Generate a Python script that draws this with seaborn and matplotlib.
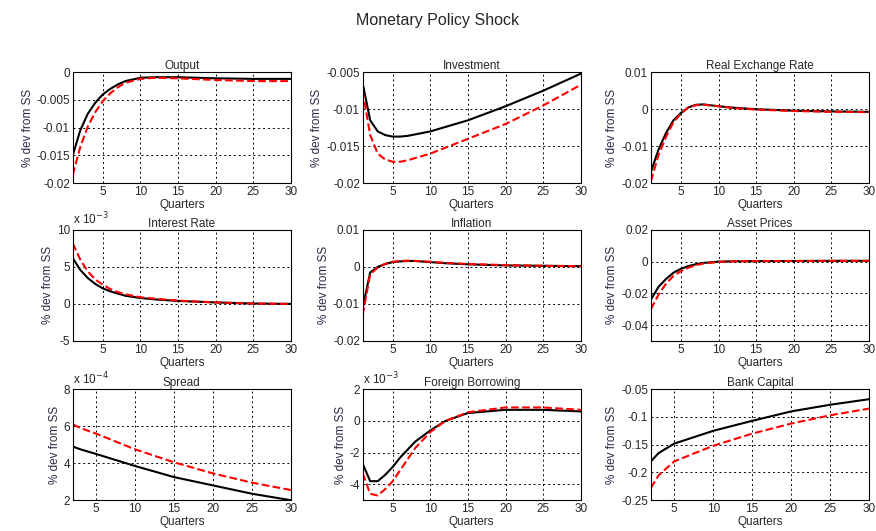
import matplotlib
matplotlib.use("Agg")
import matplotlib.pyplot as plt
import seaborn as sns

sns.set_style("white")
plt.rcParams["font.family"] = ["Liberation Sans", "DejaVu Sans"]
plt.rcParams["font.size"] = 8.5

QUARTERS = [1, 2, 3, 4, 5, 6, 7, 8, 10, 12, 15, 20, 25, 30]
QUARTERS_LATE = [2, 3, 5, 10, 15, 20, 25, 30]

OUTPUT_BASE = [-0.015, -0.0105, -0.0075, -0.0055, -0.004, -0.003, -0.0022, -0.0016, -0.001, -0.0009, -0.0009, -0.0011, -0.0012, -0.0012]
OUTPUT_ALT = [-0.0185, -0.0135, -0.0098, -0.0072, -0.0052, -0.0038, -0.0027, -0.0019, -0.0012, -0.001, -0.0011, -0.0014, -0.0016, -0.0016]
INVEST_BASE = [-0.0065, -0.0115, -0.013, -0.0135, -0.0137, -0.0137, -0.0136, -0.0134, -0.013, -0.0124, -0.0115, -0.0096, -0.0075, -0.0052]
INVEST_ALT = [-0.0075, -0.0135, -0.016, -0.0168, -0.0171, -0.0171, -0.0169, -0.0166, -0.016, -0.0152, -0.014, -0.012, -0.0095, -0.0067]
RER_BASE = [-0.017, -0.011, -0.0065, -0.003, -0.001, 0.0005, 0.0012, 0.0013, 0.0008, 0.0004, 0.0, -0.0004, -0.0006, -0.0007]
RER_ALT = [-0.0195, -0.0125, -0.0075, -0.0035, -0.0012, 0.0005, 0.0011, 0.0012, 0.0008, 0.0003, -0.0001, -0.0005, -0.0007, -0.0008]
RATE_BASE = [6.2, 4.6, 3.5, 2.7, 2.1, 1.7, 1.4, 1.1, 0.8, 0.6, 0.4, 0.2, 0.05, 0.0]
RATE_ALT = [8.2, 6.0, 4.4, 3.3, 2.6, 2.0, 1.6, 1.3, 0.9, 0.7, 0.45, 0.2, 0.05, 0.0]
INFL_BASE = [-0.011, -0.0015, 0.0, 0.0008, 0.0013, 0.0015, 0.0016, 0.0016, 0.0013, 0.001, 0.0007, 0.0004, 0.0003, 0.0002]
INFL_ALT = [-0.013, -0.002, -0.0002, 0.0008, 0.0014, 0.0016, 0.0017, 0.0016, 0.0014, 0.0011, 0.0008, 0.0005, 0.0003, 0.0002]
ASSET_BASE = [-0.024, -0.016, -0.011, -0.007, -0.0045, -0.0028, -0.0016, -0.0008, 0.0, 0.0002, 0.0003, 0.0004, 0.0005, 0.0005]
ASSET_ALT = [-0.03, -0.021, -0.014, -0.009, -0.006, -0.0038, -0.0022, -0.0012, -0.0002, 0.0002, 0.0003, 0.0004, 0.0005, 0.0005]
SPREAD_BASE = [4.9, 4.75, 4.5, 3.85, 3.25, 2.8, 2.35, 2.0]
SPREAD_ALT = [6.1, 5.9, 5.6, 4.75, 4.05, 3.45, 2.95, 2.55]
BORROW_BASE = [-2.7, -3.8, -3.8, -3.4, -2.9, -2.3, -1.8, -1.3, -0.6, 0.0, 0.5, 0.7, 0.7, 0.6]
BORROW_ALT = [-3.3, -4.6, -4.7, -4.3, -3.8, -3.1, -2.4, -1.7, -0.7, 0.0, 0.55, 0.85, 0.85, 0.7]
BANK_BASE = [-0.18, -0.165, -0.148, -0.125, -0.107, -0.09, -0.078, -0.068]
BANK_ALT = [-0.228, -0.205, -0.18, -0.152, -0.13, -0.112, -0.097, -0.085]

PANELS = [
    ("Output", QUARTERS, OUTPUT_BASE, OUTPUT_ALT, (-0.02, 0), [-0.02, -0.015, -0.01, -0.005, 0], None),
    ("Investment", QUARTERS, INVEST_BASE, INVEST_ALT, (-0.02, -0.005), [-0.02, -0.015, -0.01, -0.005], None),
    ("Real Exchange Rate", QUARTERS, RER_BASE, RER_ALT, (-0.02, 0.01), [-0.02, -0.01, 0, 0.01], None),
    ("Interest Rate", QUARTERS, RATE_BASE, RATE_ALT, (-5, 10), [-5, 0, 5, 10], "x 10$^{-3}$"),
    ("Inflation", QUARTERS, INFL_BASE, INFL_ALT, (-0.02, 0.01), [-0.02, -0.01, 0, 0.01], None),
    ("Asset Prices", QUARTERS, ASSET_BASE, ASSET_ALT, (-0.05, 0.02), [-0.04, -0.02, 0, 0.02], None),
    ("Spread", QUARTERS_LATE, SPREAD_BASE, SPREAD_ALT, (2, 8), [2, 4, 6, 8], "x 10$^{-4}$"),
    ("Foreign Borrowing", QUARTERS, BORROW_BASE, BORROW_ALT, (-5, 2), [-4, -2, 0, 2], "x 10$^{-3}$"),
    ("Bank Capital", QUARTERS_LATE, BANK_BASE, BANK_ALT, (-0.25, -0.05), [-0.25, -0.2, -0.15, -0.1, -0.05], None),
]

LEFTS = [0.083, 0.414, 0.743]
BOTTOMS = [0.655, 0.358, 0.058]
WIDTH, HEIGHT = 0.249, 0.209

fig = plt.figure(figsize=(8.76, 5.31), dpi=100)
fig.suptitle("Monetary Policy Shock", y=0.975, fontsize=11.5)

for i, (title, q, base, alt, ylim, yticks, scale) in enumerate(PANELS):
    ax = fig.add_axes([LEFTS[i % 3], BOTTOMS[i // 3], WIDTH, HEIGHT])
    sns.lineplot(x=q, y=base, ax=ax, color="black", linewidth=1.5)
    sns.lineplot(x=q, y=alt, ax=ax, color="red", linewidth=1.5, linestyle="--")
    ax.set_xlim(q[0], 30)
    ax.set_ylim(*ylim)
    ax.set_xticks([5, 10, 15, 20, 25, 30])
    ax.set_yticks(yticks)
    ax.set_yticklabels([f"{v:g}" for v in yticks])
    ax.grid(True, color="black", linestyle=(0, (2, 3)), linewidth=0.7)
    ax.tick_params(direction="in", length=3, pad=2, labelsize=8.5)
    for sp in ax.spines.values():
        sp.set_color("black")
        sp.set_linewidth(0.8)
    ax.set_title(title, fontsize=8.5, pad=2)
    ax.set_xlabel("Quarters", fontsize=8.5, labelpad=1)
    ax.set_ylabel("% dev from SS", fontsize=8.5, color="#302848", labelpad=2)
    if scale:
        ax.text(0.0, 1.02, scale, transform=ax.transAxes, fontsize=8.5, ha="left", va="bottom")

fig.savefig("out.png", dpi=100)
